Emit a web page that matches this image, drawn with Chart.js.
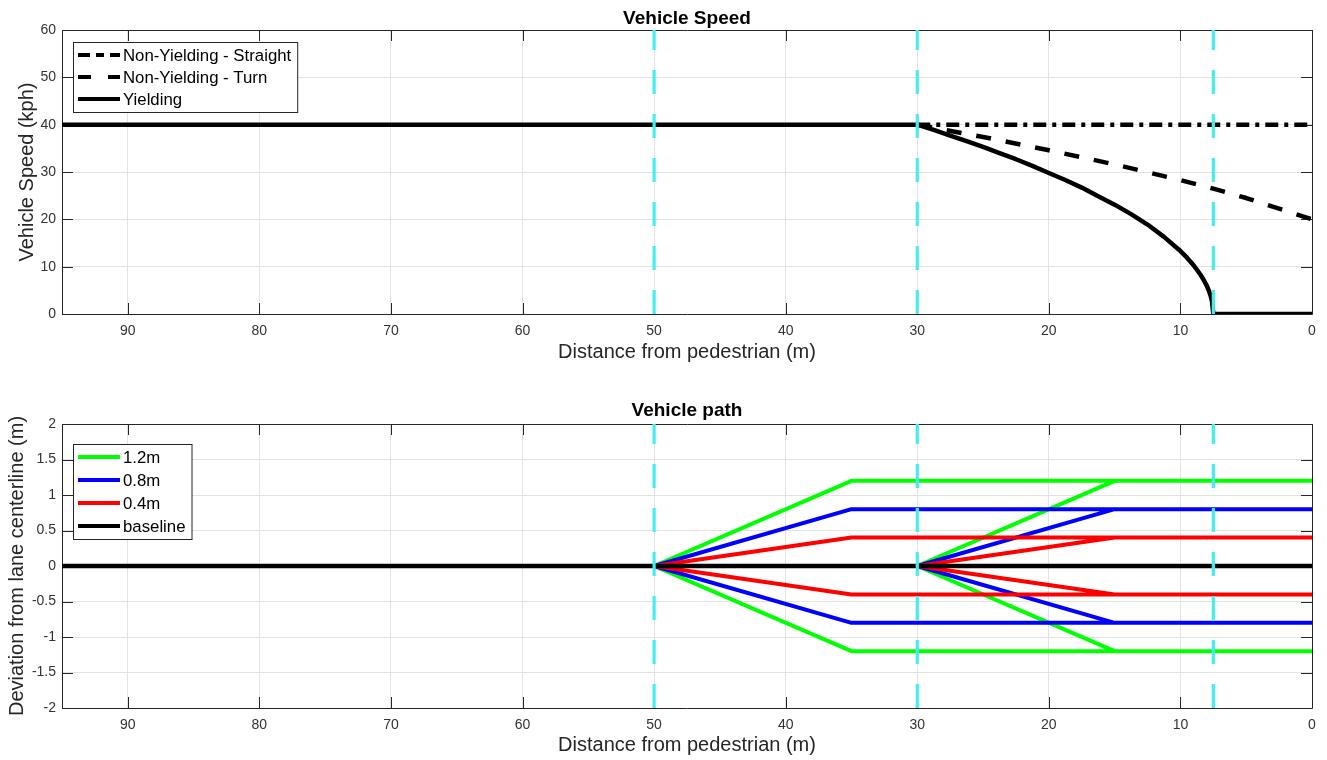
<!DOCTYPE html>
<html lang="en">
<head>
<meta charset="UTF-8">
<title>Vehicle Speed / Vehicle path</title>
<script src="https://cdn.jsdelivr.net/npm/chart.js"></script>
<style>
  html, body { margin: 0; padding: 0; background: #fff; }
  .panel { width: 1327px; height: 380px; }
  canvas { display: block; }
</style>
</head>
<body>
<div class="panel"><canvas id="speedChart" width="1327" height="380"></canvas></div>
<div class="panel"><canvas id="pathChart" width="1327" height="380"></canvas></div>
<script>
// shared x axis (distance from pedestrian, reversed)
const xLimits = [0, 95];
const xTicks = [90, 80, 70, 60, 50, 40, 30, 20, 10, 0];
const markerX = [50, 30, 7.5];   // cyan dashed reference lines

// top panel: vehicle speed
const speedLimits = [0, 60];
const speedTicks = [0, 10, 20, 30, 40, 50, 60];
const straightDist = [30, 0];
const straightSpeed = [40, 40];
const turnDist = [30, 25, 20, 15, 10, 7.5, 5, 0];
const turnSpeed = [40, 37.4, 34.6, 31.6, 28.3, 26.5, 24.5, 20];
const yieldDist = [95, 30, 28.75, 27.5, 26.25, 25, 23.75, 22.5, 21.25, 20, 18.75, 17.5, 16.25, 15,
                   13.75, 12.5, 11.25, 10, 9.5, 9, 8.5, 8.25, 8, 7.85, 7.7, 7.6, 7.5, 0];
const yieldSpeed = [40, 40, 38.9, 37.7, 36.5, 35.3, 34.0, 32.7, 31.3, 29.8, 28.3, 26.7, 24.9, 23.1,
                    21.1, 18.9, 16.3, 13.3, 11.9, 10.3, 8.4, 7.3, 6.0, 5.0, 3.8, 2.7, 0, 0];

// bottom panel: vehicle path
const devLimits = [-2, 2];
const devTicks = [-2, -1.5, -1, -0.5, 0, 0.5, 1, 1.5, 2];
const offsetLabels = ['1.2m', '0.8m', '0.4m'];
const offsetValues = [1.2, 0.8, 0.4];
const offsetColors = ['#00ff00', '#0000ff', '#ff0000'];
const shiftStart = [50, 30];   // where the swerve begins
const shiftEnd = [35, 15];     // where the full offset is reached
const baselineDist = [95, 0];
const baselineDev = [0, 0];

const FONT = "'Liberation Sans', Arial, Helvetica, sans-serif";
const AXIS_COLOR = '#262626';

function pts(xs, ys) {
    return xs.map((x, i) => ({ x: x, y: ys[i] }));
}

// points for one offset value, both sides, both swerve starts (null = break)
function swervePoints(o) {
    const out = [];
    shiftStart.forEach((s, i) => {
        [1, -1].forEach(sign => {
            out.push({ x: s, y: 0 }, { x: shiftEnd[i], y: sign * o }, { x: xLimits[0], y: sign * o });
            out.push({ x: xLimits[0], y: null });
        });
    });
    return out;
}

function markerSets(yLim) {
    return markerX.map(m => ({
        data: [{ x: m, y: yLim[0] }, { x: m, y: yLim[1] }],
        borderColor: '#45eeee',
        borderWidth: 3.2,
        borderDash: [24, 20],
        inLegend: false
    }));
}

// frame with inward ticks on all four sides (MATLAB style box)
const axesBox = {
    id: 'axesBox',
    beforeDatasetsDraw(chart) {
        const { ctx, chartArea: a, scales } = chart;
        const L = 11;
        ctx.save();
        ctx.strokeStyle = AXIS_COLOR;
        ctx.lineWidth = 1;
        ctx.beginPath();
        ctx.rect(Math.round(a.left) + 0.5, Math.round(a.top) + 0.5,
                 Math.round(a.right - a.left), Math.round(a.bottom - a.top));
        scales.x.ticks.forEach(t => {
            const px = Math.round(scales.x.getPixelForValue(t.value)) + 0.5;
            ctx.moveTo(px, a.bottom); ctx.lineTo(px, a.bottom - L);
            ctx.moveTo(px, a.top); ctx.lineTo(px, a.top + L);
        });
        scales.y.ticks.forEach(t => {
            const py = Math.round(scales.y.getPixelForValue(t.value)) + 0.5;
            ctx.moveTo(a.left, py); ctx.lineTo(a.left + L, py);
            ctx.moveTo(a.right, py); ctx.lineTo(a.right - L, py);
        });
        ctx.stroke();
        ctx.restore();
    },
    afterDraw(chart, args, opts) {
        const { ctx, chartArea: a } = chart;
        ctx.save();
        ctx.fillStyle = '#000';
        ctx.font = 'bold 19px ' + FONT;
        ctx.textAlign = 'center';
        ctx.textBaseline = 'middle';
        ctx.fillText(opts.title, (a.left + a.right) / 2, opts.titleY);
        ctx.restore();
    }
};

// legend box drawn inside the plot, upper left
const boxLegend = {
    id: 'boxLegend',
    afterDraw(chart, args, opts) {
        const ctx = chart.ctx;
        const items = chart.data.datasets.filter(d => d.inLegend);
        ctx.save();
        ctx.font = '16.8px ' + FONT;
        const textW = Math.max(...items.map(d => ctx.measureText(d.label).width));
        const w = 50 + textW + 6;
        const h = 26 + (items.length - 1) * opts.rowH;
        ctx.fillStyle = '#fff';
        ctx.fillRect(opts.x, opts.y, w, h);
        ctx.strokeStyle = AXIS_COLOR;
        ctx.lineWidth = 1;
        ctx.strokeRect(opts.x + 0.5, opts.y + 0.5, w, h);
        items.forEach((d, i) => {
            const cy = opts.y + 13 + i * opts.rowH;
            ctx.beginPath();
            ctx.setLineDash(d.legendDash || []);
            ctx.strokeStyle = d.borderColor;
            ctx.lineWidth = 4;
            ctx.moveTo(opts.x + 5, cy);
            ctx.lineTo(opts.x + 47, cy);
            ctx.stroke();
            ctx.setLineDash([]);
            ctx.fillStyle = '#000';
            ctx.textBaseline = 'middle';
            ctx.fillText(d.label, opts.x + 50, cy + 1);
        });
        ctx.restore();
    }
};

function makeOptions(yLim, yTicks, yTitle, cfg) {
    return {
        responsive: false,
        animation: false,
        events: [],
        layout: { padding: { top: cfg.top, right: 15, bottom: 0, left: 0 } },
        plugins: {
            legend: { display: false },
            tooltip: { enabled: false },
            axesBox: { title: cfg.title, titleY: cfg.titleY },
            boxLegend: cfg.legend
        },
        scales: {
            x: {
                type: 'linear',
                min: xLimits[0],
                max: xLimits[1],
                reverse: true,
                afterBuildTicks: s => { s.ticks = xTicks.map(v => ({ value: v })); },
                afterFit: s => { s.height = cfg.xHeight; },
                grid: { color: '#e3e3e3', drawTicks: false },
                border: { display: false },
                ticks: { padding: 9, color: '#333', font: { family: FONT, size: 14 }, maxRotation: 0 },
                title: { display: true, text: 'Distance from pedestrian (m)', color: AXIS_COLOR,
                         font: { family: FONT, size: 20 }, padding: { top: 0, bottom: cfg.xTitlePad } }
            },
            y: {
                type: 'linear',
                min: yLim[0],
                max: yLim[1],
                afterBuildTicks: s => { s.ticks = yTicks.map(v => ({ value: v })); },
                afterFit: s => { s.width = 62; },
                grid: { color: '#e3e3e3', drawTicks: false },
                border: { display: false },
                ticks: { padding: 6, color: '#333', font: { family: FONT, size: 14 }, callback: v => String(v) },
                title: { display: true, text: yTitle, color: AXIS_COLOR,
                         font: { family: FONT, size: 20 }, padding: { top: cfg.yTitlePad, bottom: 0 } }
            }
        }
    };
}

function finish(sets) {
    sets.forEach((d, i) => {
        d.order = -i;           // later datasets on top, like MATLAB
        d.pointRadius = 0;
        d.fill = false;
        d.tension = 0;
        d.spanGaps = false;
        d.borderCapStyle = 'butt';
        d.borderJoinStyle = 'round';
    });
    return sets;
}

// top chart
const speedSets = finish([
    { label: 'Non-Yielding - Straight', data: pts(straightDist, straightSpeed), borderColor: '#000',
      borderWidth: 4.5, borderDash: [13, 6, 4, 6], legendDash: [12, 6, 8, 6], inLegend: true },
    { label: 'Non-Yielding - Turn', data: pts(turnDist, turnSpeed), borderColor: '#000',
      borderWidth: 4.5, borderDash: [15, 15], legendDash: [13, 17], inLegend: true },
    { label: 'Yielding', data: pts(yieldDist, yieldSpeed), borderColor: '#000',
      borderWidth: 4.5, inLegend: true }
].concat(markerSets(speedLimits)));

new Chart(document.getElementById('speedChart'), {
    type: 'line',
    data: { datasets: speedSets },
    options: makeOptions(speedLimits, speedTicks, 'Vehicle Speed (kph)', {
        top: 30, title: 'Vehicle Speed', titleY: 18.5, xHeight: 66, xTitlePad: 16, yTitlePad: 15,
        legend: { x: 73, y: 42, rowH: 22 }
    }),
    plugins: [axesBox, boxLegend]
});

// bottom chart
const pathSets = finish(offsetValues.map((o, i) => ({
    label: offsetLabels[i], data: swervePoints(o), borderColor: offsetColors[i],
    borderWidth: 4, inLegend: true
})).concat([
    { label: 'baseline', data: pts(baselineDist, baselineDev), borderColor: '#000',
      borderWidth: 4.5, inLegend: true }
]).concat(markerSets(devLimits)));

new Chart(document.getElementById('pathChart'), {
    type: 'line',
    data: { datasets: pathSets },
    options: makeOptions(devLimits, devTicks, 'Deviation from lane centerline (m)', {
        top: 44, title: 'Vehicle path', titleY: 31, xHeight: 52, xTitlePad: 3, yTitlePad: 5.5,
        legend: { x: 73, y: 64, rowH: 23 }
    }),
    plugins: [axesBox, boxLegend]
});
</script>
</body>
</html>
